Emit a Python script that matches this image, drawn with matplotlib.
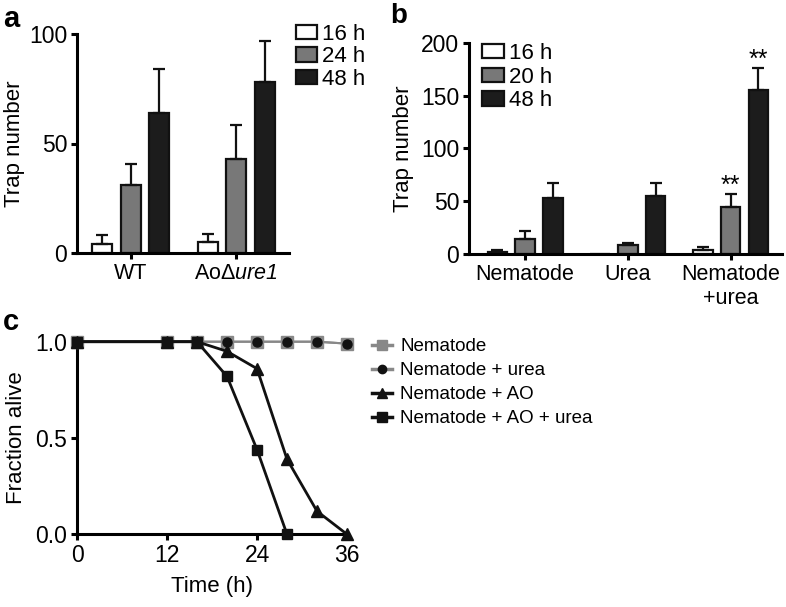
import matplotlib
matplotlib.use("Agg")
import matplotlib.pyplot as plt
from matplotlib.lines import Line2D
import numpy as np

plt.rcParams['font.family'] = ['Liberation Sans', 'DejaVu Sans']
plt.rcParams['mathtext.fontset'] = 'custom'
plt.rcParams['mathtext.rm'] = 'Liberation Sans:italic'
plt.rcParams['mathtext.it'] = 'Liberation Sans:italic'

# ---------------- data ----------------
a_groups = ['WT', r'AoΔ$\mathrm{ure1}$']
a_series = ['16 h', '24 h', '48 h']
a_means = [[4, 5], [31, 43], [64, 78]]
a_errs = [[4, 3.5], [9.5, 15.5], [20, 19]]

b_groups = ['Nematode', 'Urea', 'Nematode\n+urea']
b_series = ['16 h', '20 h', '48 h']
b_means = [[2.5, 0, 4.5], [14, 8.5, 45], [53, 55, 155]]
b_errs = [[1.5, 0, 2.5], [8, 2.5, 12], [14.5, 12.5, 21]]
b_star_series = [1, 2]          # series index marked ** in last group
b_star_text = '**'

c_labels = ['Nematode', 'Nematode + urea', 'Nematode + AO', 'Nematode + AO + urea']
c_t_nem = [0, 12, 16, 20, 24, 28, 32, 36]
c_y_nem = [1.0, 1.0, 1.0, 1.0, 1.0, 1.0, 1.0, 0.99]
c_t_urea = [0, 12, 16, 20, 24, 28, 32, 36]
c_y_urea = [1.0, 1.0, 1.0, 1.0, 1.0, 1.0, 1.0, 0.99]
c_t_ao = [0, 12, 16, 20, 24, 28, 32, 36]
c_y_ao = [1.0, 1.0, 1.0, 0.95, 0.86, 0.39, 0.12, 0.0]
c_t_aou = [0, 12, 16, 20, 24, 28]
c_y_aou = [1.0, 1.0, 1.0, 0.82, 0.44, 0.0]

bar_colors = ['white', '#787878', '#1c1c1c']

W, H = 786, 607
fig = plt.figure(figsize=(W / 100, H / 100), dpi=100)

def ax_px(left, top, right, bottom):
    return fig.add_axes([left / W, (H - bottom) / H, (right - left) / W, (bottom - top) / H])

FS_NUM = 16.5
FS_CAT = 15.5
FS_LAB = 16
FS_LEG = 16
FS_LEGC = 13.5
LW = 2.2

def style(ax):
    for s in ['top', 'right']:
        ax.spines[s].set_visible(False)
    for s in ['left', 'bottom']:
        ax.spines[s].set_linewidth(LW)
    ax.tick_params(axis='both', which='major', direction='out', length=4.5, width=LW, pad=2.5)
    ax.tick_params(axis='y', labelsize=FS_NUM)

# ---------------- panel a ----------------
axa = ax_px(77, 34, 289, 253)
style(axa)
xa = np.arange(len(a_groups))
step, width = 0.27, 0.19
for i, s in enumerate(a_series):
    axa.bar(xa + (i - 1) * step, a_means[i], width, color=bar_colors[i], edgecolor='#111111',
            linewidth=1.6, label=s,
            yerr=[np.zeros(len(a_groups)), a_errs[i]],
            error_kw=dict(ecolor='#111111', elinewidth=1.6, capsize=4.3, capthick=1.6))
axa.set_xlim(-0.51, 1.5)
axa.set_ylim(0, 100)
axa.set_yticks([0, 50, 100])
axa.set_xticks(xa)
axa.set_xticklabels(a_groups, fontsize=FS_CAT)
axa.set_ylabel('Trap number', fontsize=FS_LAB)
axa.yaxis.set_label_coords(-0.245, 0.5)
axa.legend(loc='upper left', bbox_to_anchor=(296 / W, (H - 24) / H), bbox_transform=fig.transFigure,
           frameon=False, fontsize=FS_LEG, handlelength=0.95, handleheight=0.6, handletextpad=0.2,
           labelspacing=0.06, borderpad=0, borderaxespad=0)

# ---------------- panel b ----------------
axb = ax_px(469, 42.7, 782, 254.3)
style(axb)
xb = np.arange(len(b_groups))
for i, s in enumerate(b_series):
    m = np.array(b_means[i], dtype=float)
    e = np.array(b_errs[i], dtype=float)
    axb.bar(xb + (i - 1) * step, m, width, color=bar_colors[i], edgecolor='#111111',
            linewidth=1.6, label=s)
    mask = m > 0
    axb.errorbar((xb + (i - 1) * step)[mask], m[mask], yerr=[np.zeros(mask.sum()), e[mask]],
                 fmt='none', ecolor='#111111', elinewidth=1.6, capsize=4.3, capthick=1.6)
for i in b_star_series:
    axb.text(xb[2] + (i - 1) * step, b_means[i][2] + b_errs[i][2] + 8, b_star_text,
             ha='center', va='center', fontsize=18)
axb.set_xlim(-0.546, 2.5)
axb.set_ylim(0, 200)
axb.set_yticks([0, 50, 100, 150, 200])
axb.set_xticks(xb)
axb.set_xticklabels(b_groups, fontsize=FS_CAT)
axb.set_ylabel('Trap number', fontsize=FS_LAB)
axb.yaxis.set_label_coords(-0.175, 0.5)
axb.legend(loc='upper left', bbox_to_anchor=(482 / W, (H - 43) / H), bbox_transform=fig.transFigure,
           frameon=False, fontsize=FS_LEG, handlelength=1.0, handleheight=0.6, handletextpad=0.22,
           labelspacing=0.12, borderpad=0, borderaxespad=0)

# ---------------- panel c ----------------
axc = ax_px(77, 341.7, 347, 534.3)
style(axc)
gray = '#888888'
axc.plot(c_t_nem, c_y_nem, color=gray, lw=1.5, marker='s', ms=8.5, mfc=gray, mec=gray,
         clip_on=False, zorder=3)
axc.plot(c_t_urea, c_y_urea, color=gray, lw=1.5, marker='o', ms=6.5, mfc='#111111', mec='#111111',
         clip_on=False, zorder=4)
axc.plot(c_t_ao, c_y_ao, color='#111111', lw=2.0, marker='^', ms=8, mfc='#111111', mec='#111111',
         clip_on=False, zorder=5)
axc.plot(c_t_aou, c_y_aou, color='#111111', lw=2.0, marker='s', ms=7.5, mfc='#111111', mec='#111111',
         clip_on=False, zorder=6)
axc.set_xlim(0, 36)
axc.set_ylim(0, 1)
axc.set_xticks([0, 12, 24, 36])
axc.set_yticks([0, 0.5, 1.0])
axc.set_yticklabels(['0.0', '0.5', '1.0'])
axc.tick_params(axis='x', labelsize=FS_NUM)
axc.set_ylabel('Fraction alive', fontsize=FS_LAB)
axc.yaxis.set_label_coords(-0.185, 0.5)
axc.set_xlabel('Time (h)', fontsize=FS_LAB)
axc.xaxis.set_label_coords(0.5, -0.215)

handles = [
    Line2D([], [], color=gray, lw=2.5, marker='s', ms=7, mfc=gray, mec=gray),
    Line2D([], [], color=gray, lw=2.5, marker='o', ms=6, mfc='#111111', mec='#111111'),
    Line2D([], [], color='#111111', lw=2.5, marker='^', ms=7, mfc='#111111', mec='#111111'),
    Line2D([], [], color='#111111', lw=2.5, marker='s', ms=7, mfc='#111111', mec='#111111'),
]
fig.legend(handles, c_labels, loc='upper left', bbox_to_anchor=(372 / W, (H - 338) / H),
           frameon=False, fontsize=FS_LEGC, handlelength=1.07, handletextpad=0.43,
           labelspacing=0.37, borderpad=0, borderaxespad=0)

# panel letters
fig.text(3 / W, (H - 27) / H, 'a', fontsize=21, fontweight='bold', va='baseline')
fig.text(390 / W, (H - 23) / H, 'b', fontsize=20, fontweight='bold', va='baseline')
fig.text(3 / W, (H - 330) / H, 'c', fontsize=21, fontweight='bold', va='baseline')

fig.savefig('out.png', dpi=100)
